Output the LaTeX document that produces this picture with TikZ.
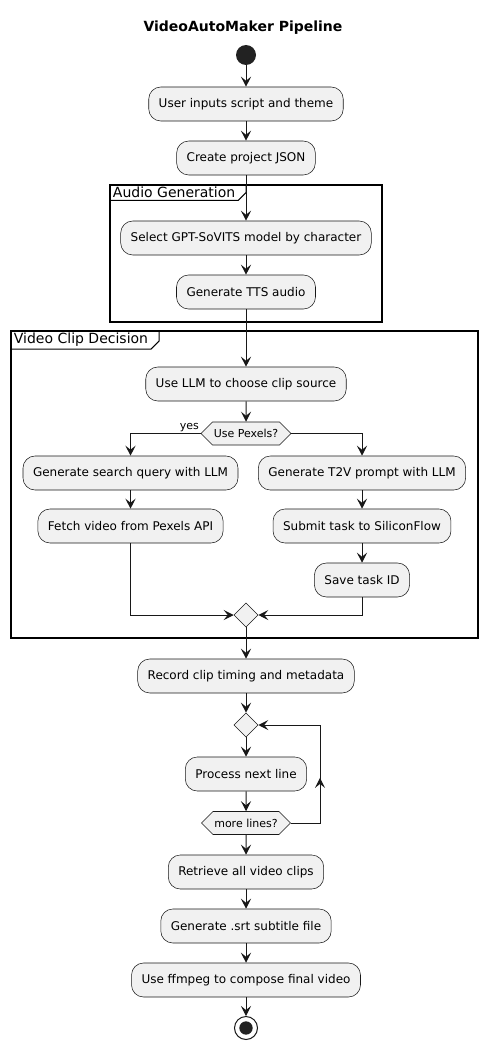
\documentclass[tikz,border=0pt]{standalone}
\usepackage{fontspec}
\setmainfont{DejaVu Sans}
\usetikzlibrary{arrows.meta,shapes.geometric,shapes.symbols,calc}
\definecolor{boxfill}{HTML}{F1F1F1}
\definecolor{boxline}{HTML}{181818}
\definecolor{dotfill}{HTML}{222222}

\begin{document}
\begin{tikzpicture}[x=0.75pt, y=-0.75pt,
  act/.style={rectangle, rounded corners=9pt, draw=boxline, line width=0.4pt, fill=boxfill, font=\fontsize{9}{11}\selectfont, inner xsep=7.5pt, minimum height=25.5pt},
  hexa/.style={signal, signal to=west and east, signal pointer angle=90, draw=boxline, line width=0.4pt, fill=boxfill, font=\fontsize{8.25}{10}\selectfont, inner xsep=1pt, inner ysep=0pt, minimum height=17.25pt},
  merger/.style={diamond, aspect=1, draw=boxline, line width=0.4pt, fill=boxfill, minimum width=18pt, minimum height=18pt, inner sep=0pt},
  flow/.style={draw=boxline, line width=0.75pt, -{Stealth[length=7.5pt, width=7.5pt, inset=3pt]}},
  frame/.style={draw=black, line width=1.1pt},
  frametitle/.style={font=\fontsize{10.5}{12}\selectfont, inner xsep=2pt, inner ysep=1.5pt, anchor=north west}]
\useasboundingbox (0,0) rectangle (487,1049);

\node[font=\bfseries\fontsize{10.5}{12}\selectfont] (title) at (243,28) {VideoAutoMaker Pipeline};

% frames
\draw[frame] (110,185) rectangle (382,322);
\node[frametitle] (agtitle) at (110,185) {Audio Generation};
\draw[line width=0.75pt] (agtitle.south west) -- (agtitle.south east) -- ([xshift=6pt, yshift=6pt]agtitle.south east) -- ([xshift=6pt]agtitle.north east);
\draw[frame] (11,331) rectangle (478,638);
\node[frametitle] (vctitle) at (11,331) {Video Clip Decision};
\draw[line width=0.75pt] (vctitle.south west) -- (vctitle.south east) -- ([xshift=6pt, yshift=6pt]vctitle.south east) -- ([xshift=6pt]vctitle.north east);

% nodes
\node[circle, fill=dotfill, minimum size=15pt, inner sep=0pt] (start) at (246,55) {};
\node[act] (user) at (246,104) {User inputs script and theme};
\node[act] (json) at (246,158) {Create project JSON};
\node[act] (sel) at (246,238) {Select GPT-SoVITS model by character};
\node[act] (tts) at (246,292) {Generate TTS audio};
\node[act] (llm) at (246,384) {Use LLM to choose clip source};
\node[hexa] (pex) at (246,433.5) {Use Pexels?};
\node[act] (gsq) at (130.5,473) {Generate search query with LLM};
\node[act] (fetch) at (130.5,526) {Fetch video from Pexels API};
\node[act] (t2v) at (362,473) {Generate T2V prompt with LLM};
\node[act] (submit) at (362,526) {Submit task to SiliconFlow};
\node[act] (save) at (362,580) {Save task ID};
\node[merger] (merge) at (246,615) {};
\node[act] (record) at (246,676) {Record clip timing and metadata};
\node[merger] (loopd) at (246,725) {};
\node[act] (proc) at (246,774) {Process next line};
\node[hexa] (more) at (246,823) {more lines?};
\node[act] (retr) at (246,872) {Retrieve all video clips};
\node[act] (srt) at (246,926) {Generate .srt subtitle file};
\node[act] (ffm) at (246,980) {Use ffmpeg to compose final video};
\node[circle, draw=boxline, line width=0.75pt, minimum size=17.25pt, inner sep=0pt] (stop) at (246,1028) {};
\node[circle, fill=dotfill, minimum size=10pt, inner sep=0pt] (stopdot) at (stop) {};
\coordinate (loopx) at (320,823);

% edges
\draw[flow] (start) -- (user);
\draw[flow] (user) -- (json);
\draw[flow] (json) -- (sel);
\draw[flow] (sel) -- (tts);
\draw[flow] (tts) -- (llm);
\draw[flow] (llm) -- (pex);
\draw[flow] (pex.west) -| (gsq.north);
\node[font=\fontsize{8.25}{10}\selectfont, anchor=south east, inner sep=1pt] (yes) at (pex.west) {yes};
\draw[flow] (pex.east) -| (t2v.north);
\draw[flow] (gsq) -- (fetch);
\draw[flow] (t2v) -- (submit);
\draw[flow] (submit) -- (save);
\draw[flow] (fetch.south) |- (merge.west);
\draw[flow] (save.south) |- (merge.east);
\draw[flow] (merge) -- (record);
\draw[flow] (record) -- (loopd);
\draw[flow] (loopd) -- (proc);
\draw[flow] (proc) -- (more);
\draw[flow] (more.east) -- (loopx) |- (loopd.east);
\draw[flow] (loopx) -- ($(loopx)!0.46!(loopx |- loopd.east)$);
\draw[flow] (more) -- (retr);
\draw[flow] (retr) -- (srt);
\draw[flow] (srt) -- (ffm);
\draw[flow] (ffm) -- (stop);

\end{tikzpicture}
\end{document}
